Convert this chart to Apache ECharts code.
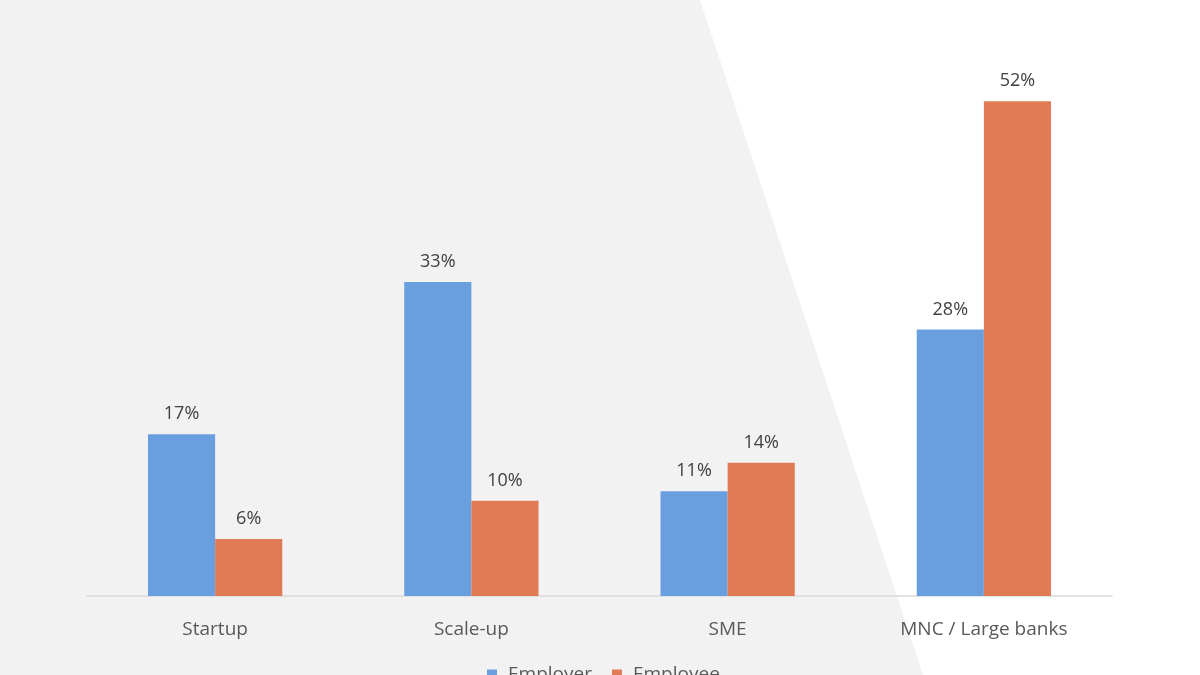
<!DOCTYPE html>
<html><head><meta charset="utf-8">
<script src="https://cdn.jsdelivr.net/npm/echarts@6/dist/echarts.min.js"></script>
<style>html,body{margin:0;padding:0;background:#fff}#c{width:1200px;height:675px}</style>
</head><body><div id="c"></div>
<script>
const categories = ['Startup', 'Scale-up', 'SME', 'MNC / Large banks'];
const employer = [17, 33, 11, 28];
const employee = [6, 10, 14, 52];
const seriesNames = ['Employer', 'Employee'];

const chart = echarts.init(document.getElementById('c'));
const font = '"Open Sans", "Noto Sans", sans-serif';
const labelCfg = {show: true, position: 'top', distance: 11, formatter: '{c}%', color: '#404040', fontSize: 18, fontFamily: font};
chart.setOption({
  backgroundColor: '#ffffff',
  graphic: [{
    type: 'polygon', z: -10, silent: true,
    shape: {points: [[0, 0], [700, 0], [923, 675], [0, 675]]},
    style: {fill: '#f2f2f2'}
  }],
  grid: {left: 87, right: 88, top: 25, bottom: 79},
  legend: {
    data: seriesNames, top: 660, left: 482,
    itemWidth: 10, itemHeight: 10, itemGap: 20,
    icon: 'rect',
    textStyle: {color: '#595959', fontSize: 19, fontFamily: font, padding: [8, 0, 0, 6]}
  },
  xAxis: {
    type: 'category', data: categories,
    axisLine: {lineStyle: {color: '#d9d9d9', width: 1.5}},
    axisTick: {show: false},
    axisLabel: {color: '#595959', fontSize: 19, margin: 24, fontFamily: font}
  },
  yAxis: {type: 'value', min: 0, max: 60, show: false, splitLine: {show: false}},
  series: [
    {name: seriesNames[0], type: 'bar', data: employer, barGap: '0%', barCategoryGap: '47.6%',
     itemStyle: {color: '#6a9fdf'}, label: labelCfg},
    {name: seriesNames[1], type: 'bar', data: employee,
     itemStyle: {color: '#e07b56'}, label: labelCfg}
  ]
});
</script></body></html>
